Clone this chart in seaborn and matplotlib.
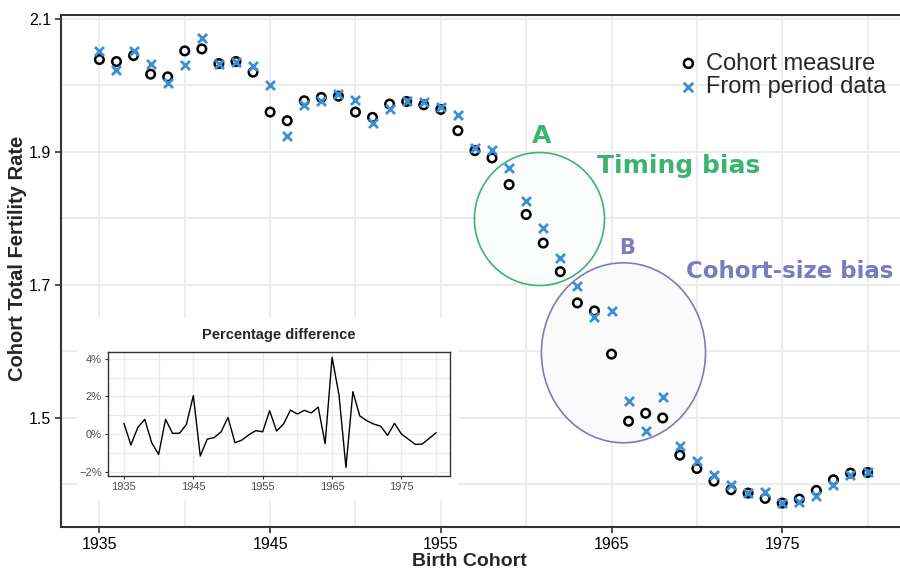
import matplotlib
matplotlib.use("Agg")
import matplotlib.pyplot as plt
import seaborn as sns
import pandas as pd
from matplotlib.patches import Ellipse, Rectangle
from matplotlib.ticker import FuncFormatter

# birth cohorts
years = list(range(1935, 1981))

# completed cohort TFR
cohort_tfr = [2.039, 2.036, 2.045, 2.017, 2.013, 2.052, 2.055, 2.033, 2.036, 2.020, 1.960,
              1.947, 1.977, 1.982, 1.984, 1.960, 1.952, 1.972, 1.976, 1.971, 1.964,
              1.932, 1.902, 1.891, 1.851, 1.806, 1.763, 1.720, 1.673, 1.661, 1.596,
              1.495, 1.507, 1.500, 1.444, 1.424, 1.405, 1.392, 1.387, 1.379, 1.372,
              1.378, 1.391, 1.407, 1.417, 1.418]

# cohort TFR reconstructed from period data
period_tfr = [2.052, 2.023, 2.052, 2.032, 2.003, 2.031, 2.071, 2.033, 2.036, 2.030, 2.000,
              1.924, 1.971, 1.977, 1.987, 1.978, 1.943, 1.965, 1.976, 1.975, 1.967,
              1.956, 1.906, 1.903, 1.876, 1.826, 1.785, 1.740, 1.698, 1.652, 1.661,
              1.525, 1.481, 1.532, 1.458, 1.435, 1.414, 1.399, 1.387, 1.388, 1.372,
              1.374, 1.382, 1.399, 1.414, 1.418]

# percentage difference (inset)
pct_diff = [0.57, -0.58, 0.35, 0.78, -0.46, -1.08, 0.78, 0.04, 0.04, 0.51, 2.04,
            -1.17, -0.27, -0.19, 0.12, 0.88, -0.46, -0.32, -0.04, 0.18, 0.12,
            1.24, 0.16, 0.53, 1.27, 1.06, 1.26, 1.12, 1.43, -0.51, 4.07,
            2.07, -1.77, 2.25, 0.96, 0.71, 0.53, 0.42, -0.07, 0.57, 0.00,
            -0.27, -0.55, -0.53, -0.23, 0.07]

series_labels = ["Cohort measure", "From period data"]

df = pd.DataFrame({
    "year": years * 2,
    "tfr": cohort_tfr + period_tfr,
    "series": [series_labels[0]] * len(years) + [series_labels[1]] * len(years),
})
diff_df = pd.DataFrame({"year": years, "pct": pct_diff})

sns.set_theme(style="whitegrid")
plt.rcParams["font.family"] = ["Liberation Sans", "DejaVu Sans"]

GREEN = "#3cb371"
PURPLE = "#7b7bc0"
BLUE = "#3a8fd6"
GRID = "#ebebeb"

fig = plt.figure(figsize=(9, 5.69), dpi=100)
ax = fig.add_axes([61 / 900, 1 - 527 / 569, 1 - 61 / 900, (527 - 15) / 569])
ax.set_facecolor("white")

# annotation shapes
ax.add_patch(Ellipse((1960.78, 1.7992), 7.62, 0.2, facecolor="#fbfdfc",
                     edgecolor=GREEN, lw=1.2, zorder=1))
ax.add_patch(Ellipse((1965.70, 1.598), 9.61, 0.2707, facecolor="#fafafa",
                     edgecolor=PURPLE, lw=1.2, zorder=1))

sns.scatterplot(data=df[df.series == series_labels[0]], x="year", y="tfr",
                marker="o", s=38, facecolor="none", edgecolor="black",
                linewidth=1.8, ax=ax, zorder=3, label=series_labels[0])
sns.scatterplot(data=df[df.series == series_labels[1]], x="year", y="tfr",
                marker="x", s=42, color=BLUE, linewidth=2.0,
                ax=ax, zorder=4, label=series_labels[1])

ax.set_xlim(1932.75, 1981.9)
ax.set_ylim(1.336, 2.106)
ax.set_xticks([1935, 1945, 1955, 1965, 1975])
ax.set_xticks([1940, 1950, 1960, 1970, 1980], minor=True)
ax.set_yticks([1.5, 1.7, 1.9, 2.1])
ax.set_yticks([1.4, 1.6, 1.8, 2.0], minor=True)
ax.yaxis.set_major_formatter(FuncFormatter(lambda v, p: f"{v:.1f}"))
ax.grid(True, which="both", color=GRID, lw=1.3)
ax.set_axisbelow(True)
ax.tick_params(axis="both", which="major", labelsize=11.5, colors="#333333",
               labelcolor="black", length=4, width=1.2, direction="out",
               left=True, bottom=True, pad=3)
ax.tick_params(axis="both", which="minor", length=0)
for side in ["left", "bottom", "top"]:
    ax.spines[side].set_color("#333333")
    ax.spines[side].set_linewidth(1.5)
ax.spines["right"].set_visible(False)

ax.set_xlabel("Birth Cohort", fontsize=14, fontweight="bold")
ax.set_ylabel("Cohort Total Fertility Rate", fontsize=14.5, fontweight="bold")
ax.xaxis.set_label_coords((469 - 61) / 839, (527 - 553) / 512)
ax.yaxis.set_label_coords((27 - 61) / 839, (527 - 258) / 512)

leg = ax.legend(loc="upper right", bbox_to_anchor=(0.995, 0.945), frameon=False,
                fontsize=17, handletextpad=0.25, labelspacing=0.05,
                borderaxespad=0, handlelength=1.0, markerscale=1.05)

bold_font = ["DejaVu Sans"]
ax.text(1960.9, 1.924, "A", color=GREEN, fontsize=18, fontweight="bold",
        ha="center", va="center", family=bold_font, zorder=5)
ax.text(1968.92, 1.879, "Timing bias", color=GREEN, fontsize=18, fontweight="bold",
        ha="center", va="center", family=bold_font, zorder=5)
ax.text(1965.93, 1.7556, "B", color=PURPLE, fontsize=15, fontweight="bold",
        ha="center", va="center", family=bold_font, zorder=5)
ax.text(1975.42, 1.7196, "Cohort-size bias", color=PURPLE, fontsize=16.5,
        fontweight="bold", ha="center", va="center", family=bold_font, zorder=5)

# white backing for the inset
fig.patches.append(Rectangle((77 / 900, 1 - 500 / 569), (458 - 77) / 900, (500 - 318) / 569,
                             transform=fig.transFigure, facecolor="white",
                             edgecolor="none", zorder=0.5))

ins = fig.add_axes([108 / 900, 1 - 475.7 / 569, (450 - 108) / 900, (475.7 - 351.7) / 569])
ins.set_zorder(1)
ins.set_facecolor("white")
sns.lineplot(data=diff_df, x="year", y="pct", color="black", lw=1.0, ax=ins)
ins.set_xlim(1932.7, 1982.0)
ins.set_ylim(-2.21, 4.37)
ins.set_xticks([1935, 1945, 1955, 1965, 1975])
ins.set_xticks([1940, 1950, 1960, 1970, 1980], minor=True)
ins.set_yticks([-2, 0, 2, 4])
ins.set_yticks([-1, 1, 3], minor=True)
ins.yaxis.set_major_formatter(FuncFormatter(lambda v, p: f"{v:.0f}%".replace("-", "\u2212")))
ins.grid(True, which="both", color=GRID, lw=1.0)
ins.tick_params(axis="both", which="major", labelsize=8, labelcolor="#4d4d4d",
                colors="#333333", length=2.5, width=0.8, left=True, bottom=True, pad=2)
ins.tick_params(axis="both", which="minor", length=0)
for s in ins.spines.values():
    s.set_color("#333333")
    s.set_linewidth(1.0)
ins.set_xlabel("")
ins.set_ylabel("")
ins.set_title("Percentage difference", fontsize=10.5, fontweight="bold", pad=9)

fig.savefig("out.png", dpi=100)
plt.close(fig)
